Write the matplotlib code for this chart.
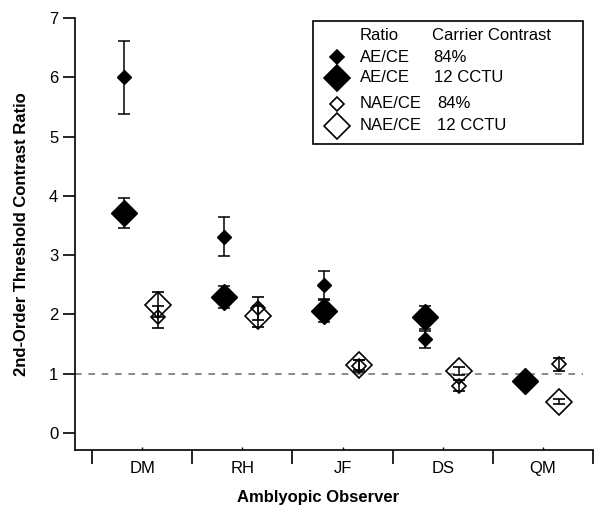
import numpy as np
import matplotlib
matplotlib.use("Agg")
import matplotlib.pyplot as plt
from matplotlib.patches import Rectangle
from matplotlib.lines import Line2D

plt.rcParams['font.family'] = ['Liberation Sans', 'DejaVu Sans']

observers = ['DM', 'RH', 'JF', 'DS', 'QM']
ae_84 = [6.00, 3.31, 2.50, 1.58, np.nan]
ae_84_err = [0.62, 0.33, 0.24, 0.14, np.nan]
ae_12 = [3.71, 2.29, 2.06, 1.95, 0.87]
ae_12_err = [0.25, 0.19, 0.19, 0.20, 0.04]
nae_84 = [1.96, 2.10, 1.13, 0.80, 1.16]
nae_84_err = [0.19, 0.20, 0.10, 0.10, 0.11]
nae_12 = [2.16, 1.97, 1.15, 1.04, 0.53]
nae_12_err = [0.21, 0.18, 0.08, 0.07, 0.04]

W, H = 598, 507
fig = plt.figure(figsize=(W / 100, H / 100), dpi=100)
ax = fig.add_axes([75 / W, 1 - 450 / H, (593 - 75) / W, (450 - 18) / H])

x = np.arange(len(observers))
off_ae, off_nae = -0.18, 0.16
small, big = 7.5, 13
ekw = dict(ls='none', ecolor='black', elinewidth=1.1, capsize=4, capthick=1.1)

ax.errorbar(x + off_ae, ae_12, yerr=ae_12_err, marker='D', ms=big,
            mfc='black', mec='black', zorder=3, **ekw)
ax.errorbar(x + off_ae, ae_84, yerr=ae_84_err, marker='D', ms=small,
            mfc='black', mec='black', zorder=4, **ekw)
ax.errorbar(x + off_nae, nae_12, yerr=nae_12_err, marker='D', ms=big,
            mfc='none', mec='black', mew=1.2, zorder=3, **ekw)
ax.errorbar(x + off_nae, nae_84, yerr=nae_84_err, marker='D', ms=small,
            mfc='none', mec='black', mew=1.2, zorder=4, **ekw)

ax.plot([-0.67, 4.40], [1, 1], ls=(0, (4, 4)), color='#777777', lw=1.2, zorder=1)

ax.set_xlim(-0.67, 4.5)
ax.set_ylim(-0.287, 7.0)
ax.spines['top'].set_visible(False)
ax.spines['right'].set_visible(False)
ax.spines['left'].set_linewidth(1.2)
ax.spines['bottom'].set_linewidth(1.2)

fs = 12
ax.set_yticks(range(0, 8))
ax.tick_params(axis='y', direction='out', length=9, width=1.2, labelsize=fs, pad=3)
ax.set_xticks(np.arange(-0.5, 5, 1.0))
ax.set_xticklabels([])
ax.tick_params(axis='x', which='major', direction='out', length=10, width=1.2)
ax.set_xticks(x, minor=True)
ax.set_xticklabels(observers, minor=True, fontsize=fs)
ax.tick_params(axis='x', which='minor', direction='in', length=2, width=1.0, pad=8)

ax.set_ylabel('2nd-Order Threshold Contrast Ratio', fontsize=fs, fontweight='bold')
ax.yaxis.set_label_coords(-0.088, 0.5)
ax.set_xlabel('Amblyopic Observer', fontsize=fs, fontweight='bold')
ax.xaxis.set_label_coords(0.47, -0.092)

# legend drawn in figure pixel coordinates
def fx(px):
    return px / W

def fy(py):
    return 1 - py / H

fig.patches.append(Rectangle((fx(313), fy(144)), fx(583) - fx(313), fy(21) - fy(144),
                             transform=fig.transFigure, fill=False, lw=1.2, ec='black'))
fig.text(fx(360), fy(36), 'Ratio', fontsize=fs, va='center')
fig.text(fx(432), fy(36), 'Carrier Contrast', fontsize=fs, va='center')
rows = [(57, 'AE/CE', '84%', small, 'black', 433),
        (78, 'AE/CE', '12 CCTU', big, 'black', 434),
        (104, 'NAE/CE', '84%', small, 'none', 437),
        (126, 'NAE/CE', '12 CCTU', big, 'none', 437)]
for py, r, c, ms, fc, cx in rows:
    fig.lines.append(Line2D([fx(337)], [fy(py)], marker='D', ms=ms, mfc=fc, mec='black',
                            mew=1.2, transform=fig.transFigure))
    fig.text(fx(360), fy(py), r, fontsize=fs, va='center')
    fig.text(fx(cx), fy(py), c, fontsize=fs, va='center')

fig.savefig('out.png', dpi=100)
